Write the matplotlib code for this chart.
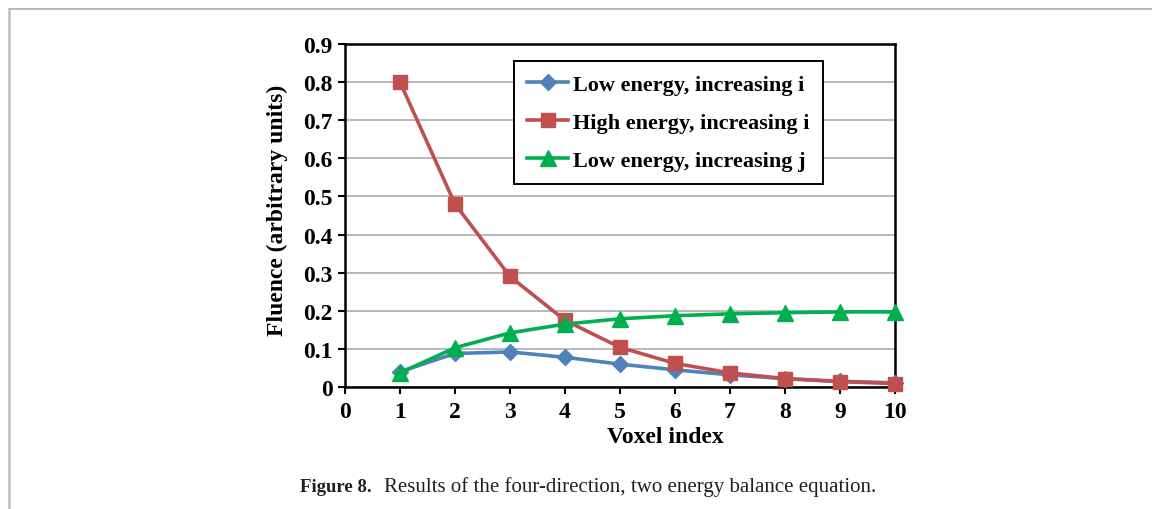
import matplotlib
matplotlib.use("Agg")
import matplotlib.pyplot as plt
from matplotlib.lines import Line2D

plt.rcParams['font.family'] = ['Liberation Serif', 'DejaVu Serif']

# data
voxel = [1, 2, 3, 4, 5, 6, 7, 8, 9, 10]
low_i = [0.040, 0.088, 0.092, 0.078, 0.060, 0.045, 0.032, 0.022, 0.015, 0.011]
high_i = [0.800, 0.480, 0.290, 0.175, 0.104, 0.062, 0.037, 0.022, 0.014, 0.009]
low_j = [0.037, 0.103, 0.142, 0.165, 0.179, 0.187, 0.192, 0.195, 0.197, 0.197]
labels = ['Low energy, increasing i', 'High energy, increasing i', 'Low energy, increasing j']
yticks = [0, 0.1, 0.2, 0.3, 0.4, 0.5, 0.6, 0.7, 0.8, 0.9]
ytick_labels = ['0', '0.1', '0.2', '0.3', '0.4', '0.5', '0.6', '0.7', '0.8', '0.9']

W, H = 1152, 510
fig = plt.figure(figsize=(W / 100, H / 100), dpi=100)

# page frame lines (top and left)
fig.add_artist(Line2D([9 / W, 1], [1 - 10 / H, 1 - 10 / H], color='#aaaaaa', lw=1.2))
fig.add_artist(Line2D([9 / W, 9 / W], [0, 1 - 10 / H], color='#c0c0c0', lw=1.8))

ax = fig.add_axes([345 / W, 1 - 388 / H, (895 - 345) / W, (388 - 45) / H])

ax.plot(voxel, low_i, color='#4F81BD', lw=2.6, marker='D', ms=8, label=labels[0],
        zorder=3, clip_on=False)
ax.plot(voxel, high_i, color='#C0504D', lw=2.6, marker='s', ms=10, label=labels[1],
        zorder=4, clip_on=False)
ax.plot(voxel, low_j, color='#00B050', lw=2.6, marker='^', ms=11, label=labels[2],
        zorder=5, clip_on=False)

ax.set_xlim(0, 10)
ax.set_ylim(0, 0.9)
ax.set_xticks(range(0, 11))
ax.set_yticks(yticks)
ax.set_yticklabels(ytick_labels)
ax.yaxis.grid(True, color='#a6a6a6', lw=1.1)
ax.set_axisbelow(True)
for s in ax.spines.values():
    s.set_color('black')
    s.set_linewidth(1.8)
ax.tick_params(axis='both', direction='out', length=5, width=1.5, colors='black',
               labelsize=17)
ax.tick_params(axis='x', pad=5)
ax.tick_params(axis='y', pad=4)
for t in ax.get_xticklabels() + ax.get_yticklabels():
    t.set_fontweight('bold')

ax.set_xlabel('Voxel index', fontsize=17, fontweight='bold')
ax.xaxis.set_label_coords((665 - 345) / 550, (388 - 427) / 343)
ax.set_ylabel('Fluence (arbitrary units)', fontsize=17, fontweight='bold')
ax.yaxis.set_label_coords((288 - 345) / 550, (388 - 210) / 343)

leg = ax.legend(loc='upper left', bbox_to_anchor=((514 - 345) / 550, (388 - 62) / 343),
                prop={'weight': 'bold', 'size': 16}, frameon=True, fancybox=False,
                framealpha=1, edgecolor='black', borderpad=0.6, labelspacing=0.78,
                handlelength=1.85, handletextpad=0.2, borderaxespad=0)
leg.get_frame().set_linewidth(1.4)

fig.text(300 / W, 1 - 487 / H, 'Figure 8.', fontsize=13.5, fontweight='bold',
         va='center', ha='left', color='#231f20')
fig.text(384 / W, 1 - 487 / H, 'Results of the four-direction, two energy balance equation.',
         fontsize=15, va='center', ha='left', color='#231f20')

fig.savefig('out.png', dpi=100)
